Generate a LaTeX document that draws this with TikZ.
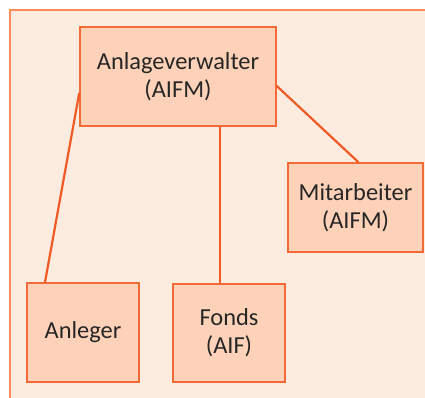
\documentclass[tikz,border=0pt]{standalone}
\usepackage{fontspec}
\setmainfont{Carlito}
\usetikzlibrary{calc}
\definecolor{frameline}{HTML}{FF8A5A}
\definecolor{framefill}{HTML}{FCEBDF}
\definecolor{boxfill}{HTML}{FDD2B8}
\definecolor{boxline}{HTML}{F26A36}
\definecolor{linkline}{HTML}{F05A24}
\tikzset{
  party/.style={draw=boxline,line width=1.5bp,fill=boxfill,align=center,
    font=\fontsize{24.5}{28.5}\selectfont,text=black!85,inner sep=0pt},
  link/.style={draw=linkline,line width=2.2bp}
}
\begin{document}
\begin{tikzpicture}[x=1bp,y=-1bp]
\useasboundingbox (0,0) rectangle (425,398);
\fill[framefill] (10,10) rectangle (425,398);
\draw[frameline,line width=2bp] (10,398) -- (10,10) -- (425,10);
\node (av) [party,minimum width=196bp,minimum height=99bp] at (178,76.5) {Anlageverwalter\\(AIFM)};
\node (mit) [party,minimum width=135bp,minimum height=89bp] at (355.5,207.5) {Mitarbeiter\\(AIFM)};
\node (anl) [party,minimum width=112bp,minimum height=99bp] at (83,332.5) {Anleger};
\node (fonds) [party,minimum width=112bp,minimum height=98bp] at (229,333) {Fonds\\(AIF)};
\coordinate (f) at ([xshift=42bp]av.south);
\draw [link] ([yshift=-16.5bp]av.west) -- ([xshift=-38bp]anl.north);
\draw [link] (f) -- (f |- fonds.north);
\draw [link] ([yshift=-9.5bp]av.east) -- ([xshift=3bp]mit.north);
\end{tikzpicture}
\end{document}
